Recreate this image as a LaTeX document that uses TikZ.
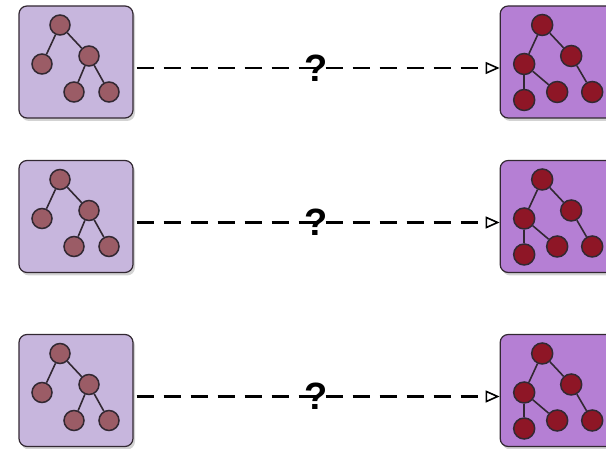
\documentclass[tikz,border=0pt]{standalone}
\usepackage{fontspec}
\setmainfont{Liberation Sans}
\usetikzlibrary{arrows.meta, positioning, shadows}

\definecolor{srcfill}{RGB}{199,182,221}
\definecolor{tgtfill}{RGB}{181,127,212}
\definecolor{srcleaf}{RGB}{155,92,102}
\definecolor{tgtleaf}{RGB}{142,22,38}
\definecolor{edgegray}{RGB}{50,40,50}

\begin{document}
\begin{tikzpicture}[x=1pt, y=1pt,
    srcbox/.style={rectangle, draw=edgegray, line width=1.2pt, rounded corners=8pt, minimum width=114pt, minimum height=112pt, fill=srcfill, drop shadow={shadow xshift=2pt, shadow yshift=-3pt, opacity=0.35}},
    tgtbox/.style={srcbox, fill=tgtfill},
    srcdot/.style={circle, draw=edgegray, line width=1.5pt, minimum size=20pt, inner sep=0pt, fill=srcleaf},
    tgtdot/.style={srcdot, minimum size=21pt, fill=tgtleaf},
    branch/.style={draw=edgegray, line width=1.6pt},
    arrow/.style={-{Triangle[open, length=14pt, width=12pt, line width=1.6pt]}, line width=2.5pt, dash pattern=on 17pt off 10pt, shorten <=3pt}
]
\useasboundingbox (0,0) rectangle (606,449);

\foreach \r/\yc in {1/387, 2/232.5, 3/58.5} {

% ==== Input tree ====
\node[srcbox] (src\r) at (76,\yc) {};
\node[srcdot] (sr\r-a) at ([xshift=-16pt, yshift=37pt]src\r.center) {};
\node[srcdot] (sr\r-b) at ([xshift=-34pt, yshift=-2pt]src\r.center) {};
\node[srcdot] (sr\r-c) at ([xshift=13pt, yshift=6pt]src\r.center) {};
\node[srcdot] (sr\r-d) at ([xshift=-2pt, yshift=-30pt]src\r.center) {};
\node[srcdot] (sr\r-e) at ([xshift=33pt, yshift=-30pt]src\r.center) {};
\draw[branch] (sr\r-a) -- (sr\r-b);
\draw[branch] (sr\r-a) -- (sr\r-c);
\draw[branch] (sr\r-c) -- (sr\r-d);
\draw[branch] (sr\r-c) -- (sr\r-e);

% ==== Output tree ====
\node[tgtbox, right=366pt of src\r] (tgt\r) {};
\node[tgtdot] (tg\r-a) at ([xshift=-15pt, yshift=37pt]tgt\r.center) {};
\node[tgtdot] (tg\r-b) at ([xshift=-33pt, yshift=-2pt]tgt\r.center) {};
\node[tgtdot] (tg\r-c) at ([xshift=14pt, yshift=6pt]tgt\r.center) {};
\node[tgtdot] (tg\r-d) at ([xshift=-33pt, yshift=-38pt]tgt\r.center) {};
\node[tgtdot] (tg\r-e) at ([xshift=0pt, yshift=-30pt]tgt\r.center) {};
\node[tgtdot] (tg\r-f) at ([xshift=35pt, yshift=-30pt]tgt\r.center) {};
\draw[branch] (tg\r-a) -- (tg\r-b);
\draw[branch] (tg\r-a) -- (tg\r-c);
\draw[branch] (tg\r-b) -- (tg\r-d);
\draw[branch] (tg\r-b) -- (tg\r-e);
\draw[branch] (tg\r-c) -- (tg\r-f);

% ==== Mapping ====
\draw[arrow] ([yshift=-6pt]src\r.east) -- ([yshift=-6pt]tgt\r.west) node[midway, font=\fontsize{38}{38}\bfseries\selectfont] (q\r) {?};
}

\end{tikzpicture}
\end{document}
